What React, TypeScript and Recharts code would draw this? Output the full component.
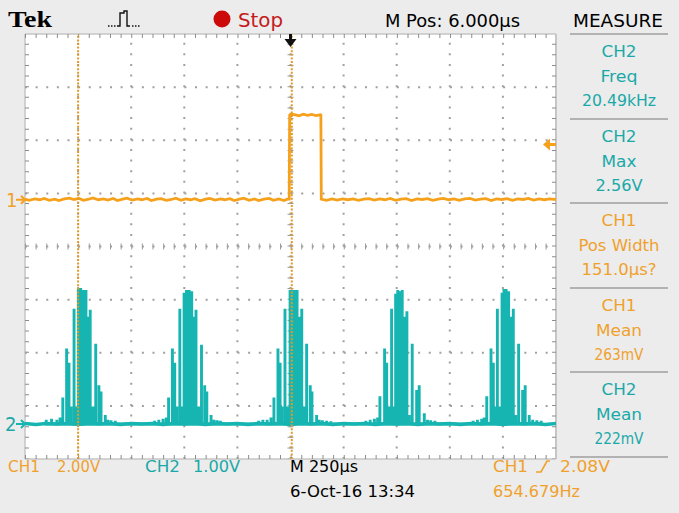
import React from 'react';
import {
  LineChart,
  Line,
  XAxis,
  YAxis,
  CartesianGrid,
  ReferenceLine,
  ReferenceDot,
} from 'recharts';

// Time in µs from screen centre (250 µs/div, 10 divs)
const T_MIN = -1250;
const T_MAX = 1250;
// CH2 axis is 1 V/div with its ground 0.66 div above the bottom edge
const CH2_MIN = -0.66;
const CH2_MAX = 7.34;
const CH2_DIVS = [0.34, 1.34, 2.34, 3.34, 4.34, 5.34, 6.34];
const CH1_MIN = -9.76;
const CH1_MAX = 6.24;

const CURSOR_TIMES = [-1000, 6];
const TRIGGER_TIME = 0;
const CH1_TRIG_LEVEL = 2.08;

// CH1, volts (2 V/div)
const ch1Trace: [number, number][] = [
  [-1250, 0.02], [-1230, -0.02], [-1205, 0.03], [-1180, 0.0], [-1160, 0.05], [-1135, -0.02],
  [-1110, 0.02], [-1090, -0.03], [-1065, 0.03], [-1040, 0.06], [-1020, 0.01], [-995, 0.05],
  [-975, -0.02], [-950, 0.02], [-930, 0.07], [-905, 0.0], [-880, 0.03], [-860, -0.01],
  [-835, 0.05], [-815, -0.03], [-790, 0.02], [-770, 0.06], [-745, -0.01], [-720, 0.03],
  [-700, 0.0], [-675, 0.05], [-655, -0.03], [-630, 0.02], [-610, 0.04], [-585, -0.02],
  [-560, 0.01], [-540, 0.06], [-515, -0.02], [-495, 0.03], [-470, 0.0], [-450, 0.04],
  [-425, -0.04], [-400, 0.02], [-380, 0.05], [-355, -0.01], [-330, 0.03], [-310, 0.0],
  [-285, 0.04], [-265, -0.03], [-240, 0.02], [-220, 0.06], [-195, -0.02], [-170, 0.03],
  [-150, -0.03], [-125, 0.02], [-100, 0.05], [-80, -0.02], [-55, 0.03], [-30, -0.03],
  [-15, 0.02], [-6, 0.02], [-4, 3.18], [0, 3.22], [20, 3.2], [40, 3.16],
  [60, 3.22], [80, 3.18], [100, 3.21], [120, 3.17], [140, 3.2], [143, 3.19], [145, 0.02],
  [170, -0.02], [195, 0.03], [220, -0.01], [245, 0.03], [270, 0.0], [295, 0.03], [320, -0.02],
  [345, 0.02], [370, 0.04], [395, -0.01], [420, 0.03], [445, 0.0], [470, 0.05], [495, -0.02],
  [520, 0.02], [545, 0.04], [570, -0.03], [595, 0.03], [620, 0.01], [645, 0.04], [670, -0.02],
  [695, 0.02], [720, 0.05], [745, 0.0], [770, 0.03], [795, -0.02], [820, 0.03], [845, 0.05],
  [870, -0.01], [895, 0.02], [920, 0.04], [945, -0.03], [970, 0.03], [995, 0.01], [1020, 0.04],
  [1045, -0.02], [1070, 0.03], [1095, 0.01], [1120, 0.05], [1145, -0.01], [1170, 0.03],
  [1195, 0.0], [1220, 0.03], [1250, 0.01],
];

// CH2, volts (1 V/div): baseline and the five bursts of spikes
const ch2Baseline: [number, number][] = [
  [-1250, 0.01], [-1200, -0.01], [-1150, 0.01], [-1100, 0.0], [-1050, 0.01], [-1000, -0.01],
  [-950, 0.01], [-900, 0.0], [-850, 0.01], [-800, -0.01], [-750, 0.01], [-700, 0.0],
  [-650, 0.01], [-600, -0.01], [-550, 0.01], [-500, 0.0], [-450, 0.01], [-400, -0.01],
  [-350, 0.01], [-300, 0.0], [-250, 0.01], [-200, -0.01], [-150, 0.01], [-100, 0.0],
  [-50, 0.01], [0, -0.01], [50, 0.01], [100, 0.0], [150, 0.01], [200, -0.01], [250, 0.01],
  [300, 0.0], [350, 0.01], [400, -0.01], [450, 0.01], [500, 0.0], [550, 0.01], [600, -0.01],
  [650, 0.01], [700, 0.0], [750, 0.01], [800, -0.01], [850, 0.01], [900, 0.0], [950, 0.01],
  [1000, -0.01], [1050, 0.01], [1100, 0.0], [1150, 0.01], [1200, -0.01], [1250, 0.01],
];

const ch2Burst1: [number, number][] = [
  [-1150, 0.08], [-1125, 0.1], [-1100, 0.08], [-1085, 0.12],
  [-1072, 0.5], [-1054, 1.42], [-1043, 1.15], [-1033, 0.33], [-1019, 2.17], [-1010, 0.33],
  [-999, 2.56], [-988, 2.56], [-975, 2.52], [-963, 2.52], [-953, 2.02], [-943, 2.15],
  [-930, 0.33], [-917, 1.51], [-902, 0.73], [-892, 0.61], [-872, 0.17],
  [-860, 0.08], [-845, 0.07], [-825, 0.06],
];
const ch2Burst2: [number, number][] = [
  [-640, 0.06], [-620, 0.08], [-600, 0.1], [-585, 0.12],
  [-574, 0.5], [-556, 1.42], [-545, 1.15], [-535, 0.33], [-521, 2.17], [-512, 0.33],
  [-501, 2.47], [-490, 2.52], [-477, 2.52], [-465, 2.5], [-455, 2.02], [-445, 2.15],
  [-432, 0.33], [-419, 1.49], [-404, 0.73], [-394, 0.61], [-374, 0.17],
  [-360, 0.08], [-345, 0.07], [-330, 0.06],
];
const ch2Burst3: [number, number][] = [
  [-150, 0.06], [-130, 0.08], [-110, 0.08], [-92, 0.12],
  [-78, 0.5], [-59, 1.42], [-49, 1.15], [-40, 0.33], [-26, 2.17], [-15, 0.33],
  [-2, 2.52], [8, 2.52], [21, 2.52], [31, 2.52], [41, 2.02], [53, 2.17],
  [65, 0.33], [76, 1.51], [93, 0.73], [101, 0.61], [123, 0.17],
  [135, 0.08], [150, 0.07], [170, 0.06], [190, 0.05],
];
const ch2Burst4: [number, number][] = [
  [355, 0.06], [375, 0.08], [395, 0.1], [410, 0.12],
  [421, 0.52], [443, 1.42], [453, 1.15], [464, 0.33], [476, 2.17], [486, 0.33],
  [495, 2.45], [505, 2.52], [516, 2.5], [526, 2.52], [538, 2.02], [548, 2.12],
  [559, 0.17], [573, 1.51], [594, 0.64], [606, 0.73], [630, 0.2],
  [645, 0.08], [660, 0.07], [680, 0.06],
];
const ch2Burst5: [number, number][] = [
  [860, 0.06], [880, 0.08], [900, 0.1], [912, 0.12],
  [924, 0.52], [944, 1.42], [955, 1.15], [963, 0.33], [974, 2.17], [983, 0.33],
  [996, 2.47], [1005, 2.54], [1015, 2.54], [1027, 2.5], [1038, 2.02], [1049, 2.17],
  [1060, 0.17], [1074, 1.51], [1093, 0.64], [1105, 0.73], [1124, 0.17],
  [1140, 0.08], [1160, 0.07], [1180, 0.06],
];

const measureRows = [
  { lines: ['CH2', 'Freq', '20.49kHz'], widths: [35, 37, 74], ch: 2 },
  { lines: ['CH2', 'Max', '2.56V'], widths: [35, 35, 47], ch: 2 },
  { lines: ['CH1', 'Pos Width', '151.0µs?'], widths: [35, 81, 75], ch: 1 },
  { lines: ['CH1', 'Mean', '263mV'], widths: [35, 46, 49], ch: 1 },
  { lines: ['CH2', 'Mean', '222mV'], widths: [35, 46, 49], ch: 2 },
];

const ORANGE = '#f6a11c';
const ORANGE_TEXT = '#efa12c';
const TEAL = '#17b5b1';
const TEAL_TEXT = '#1aa9a8';
const BG = '#ececec';
const TICK = '#8c8c8c';
const DOT = '#a0a0a0';
const SANS = "'DejaVu Sans Condensed', 'DejaVu Sans', sans-serif";
const MINOR_DASH = '1 9.625';
const DOT_DASH = '2 8.625';

// graticule box (10 x 8 divisions) inside the 679 x 513 screen
const W = 679;
const H = 513;
const PLOT = { left: 25, top: 34, width: 531, height: 425 };
const X_DIVS = 10;
const PLOT_RIGHT = PLOT.left + PLOT.width;
const PLOT_BOTTOM = PLOT.top + PLOT.height;

const toPoints = (arr: [number, number][]) => arr.map(([t, v]) => ({ t, v }));

const ch1Data = toPoints(ch1Trace);
const ch2BaseData = toPoints(ch2Baseline);
const ch2SpikeData = [ch2Burst1, ch2Burst2, ch2Burst3, ch2Burst4, ch2Burst5]
  .flat()
  .sort((a, b) => a[0] - b[0])
  .flatMap(([t, v]) => [{ t, v: 0 }, { t, v }, { t, v: 0 }]);

function Txt({ x, y, w, size = 16, color = '#000', anchor = 'start', family = SANS, weight, children }: any) {
  return (
    <text
      x={x}
      y={y}
      fontSize={size}
      fill={color}
      fontFamily={family}
      fontWeight={weight}
      textAnchor={anchor}
      textLength={w}
      lengthAdjust="spacingAndGlyphs"
    >
      {children}
    </text>
  );
}

// graticule edge: solid border plus minor ticks pointing inward (dx, dy = inward shift)
const edgeShape = (dx: number, dy: number) => (p: any) => (
  <g>
    <line x1={p.x1} y1={p.y1} x2={p.x2} y2={p.y2} stroke="#c6c6c6" strokeWidth={1.5} />
    <line x1={p.x1 + dx} y1={p.y1 + dy} x2={p.x2 + dx} y2={p.y2 + dy} stroke={TICK} strokeWidth={4} strokeDasharray={MINOR_DASH} />
  </g>
);

const ch1Marker = (p: any) => (
  <g>
    <text x={p.cx - 19} y={p.cy + 7} fontSize={20} fill={ORANGE_TEXT} fontFamily={SANS}>1</text>
    <path d={`M${p.cx - 9},${p.cy} H${p.cx} M${p.cx - 4},${p.cy - 4} L${p.cx},${p.cy} L${p.cx - 4},${p.cy + 4}`} stroke={ORANGE} strokeWidth={2} fill="none" />
  </g>
);

const ch2Marker = (p: any) => (
  <g>
    <text x={p.cx - 20} y={p.cy + 7} fontSize={20} fill={TEAL_TEXT} fontFamily={SANS}>2</text>
    <path d={`M${p.cx - 9},${p.cy} H${p.cx} M${p.cx - 4},${p.cy - 4} L${p.cx},${p.cy} L${p.cx - 4},${p.cy + 4}`} stroke={TEAL} strokeWidth={2} fill="none" />
  </g>
);

const trigLevelMarker = (p: any) => (
  <g>
    <path d={`M${p.cx - 13},${p.cy} L${p.cx - 6},${p.cy - 6} L${p.cx - 6},${p.cy + 6} Z`} fill={ORANGE} />
    <rect x={p.cx - 7} y={p.cy - 1.5} width={7} height={3} fill={ORANGE} />
  </g>
);

const trigTimeMarker = (p: any) => (
  <g>
    <rect x={p.cx - 1.5} y={p.cy} width={3} height={6} fill="#111" />
    <path d={`M${p.cx - 6},${p.cy + 5} L${p.cx + 6},${p.cy + 5} L${p.cx},${p.cy + 13} Z`} fill="#111" />
  </g>
);

// white screen, vertical dotted division lines and side edges, drawn beneath the chart
function Graticule() {
  const divW = PLOT.width / X_DIVS;
  const cols = Array.from({ length: X_DIVS - 1 }, (_, i) => PLOT.left + (i + 1) * divW);
  const centreX = PLOT.left + PLOT.width / 2;
  return (
    <svg width={W} height={H} style={{ position: 'absolute', left: 0, top: 0 }}>
      <rect x={PLOT.left} y={PLOT.top} width={PLOT.width} height={PLOT.height} fill="#ffffff" />
      {cols.map((x) => (
        <line key={`col-${x}`} x1={x} y1={PLOT_BOTTOM} x2={x} y2={PLOT.top} stroke={DOT} strokeWidth={2} strokeDasharray={DOT_DASH} />
      ))}
      <line x1={centreX} y1={PLOT_BOTTOM} x2={centreX} y2={PLOT.top} stroke="#9c9c9c" strokeWidth={6} strokeDasharray={MINOR_DASH} />
      <line x1={PLOT.left} y1={PLOT_BOTTOM} x2={PLOT.left} y2={PLOT.top} stroke="#c6c6c6" strokeWidth={1.5} />
      <line x1={PLOT.left + 2} y1={PLOT_BOTTOM} x2={PLOT.left + 2} y2={PLOT.top} stroke={TICK} strokeWidth={4} strokeDasharray={MINOR_DASH} />
      <line x1={PLOT_RIGHT} y1={PLOT_BOTTOM} x2={PLOT_RIGHT} y2={PLOT.top} stroke="#c6c6c6" strokeWidth={2} />
      <line x1={PLOT_RIGHT - 2} y1={PLOT_BOTTOM} x2={PLOT_RIGHT - 2} y2={PLOT.top} stroke={TICK} strokeWidth={4} strokeDasharray={MINOR_DASH} />
    </svg>
  );
}

export default function App() {
  const sectionTops = [34, 119, 203, 288, 372];
  return (
    <div style={{ position: 'absolute', left: 0, top: 0, width: W, height: H, background: BG, overflow: 'hidden' }}>
      <Graticule />
      <LineChart
        width={W}
        height={H}
        margin={{ top: PLOT.top, right: W - PLOT_RIGHT, bottom: H - PLOT_BOTTOM, left: PLOT.left }}
        style={{ position: 'absolute', left: 0, top: 0 }}
      >
        <CartesianGrid xAxisId="t" yAxisId="ch2" stroke={DOT} strokeWidth={2}
          strokeDasharray={DOT_DASH} vertical={false} horizontalValues={CH2_DIVS} />
        <XAxis xAxisId="t" type="number" dataKey="t" domain={[T_MIN, T_MAX]} hide allowDataOverflow />
        <YAxis yAxisId="ch1" hide type="number" domain={[CH1_MIN, CH1_MAX]} allowDataOverflow />
        <YAxis yAxisId="ch2" hide type="number" domain={[CH2_MIN, CH2_MAX]} allowDataOverflow />

        {/* centre horizontal tick marks and top / bottom edges */}
        <ReferenceLine xAxisId="t" yAxisId="ch2" y={3.34} stroke="#9c9c9c" strokeWidth={6} strokeDasharray={MINOR_DASH} />
        <ReferenceLine xAxisId="t" yAxisId="ch2" y={CH2_MAX} shape={edgeShape(0, 2)} />
        <ReferenceLine xAxisId="t" yAxisId="ch2" y={CH2_MIN} shape={edgeShape(0, -2)} />

        <Line xAxisId="t" yAxisId="ch2" data={ch2BaseData} dataKey="v" stroke={TEAL} strokeWidth={3.5}
          dot={false} isAnimationActive={false} type="linear" />
        <Line xAxisId="t" yAxisId="ch2" data={ch2SpikeData} dataKey="v" stroke={TEAL} strokeWidth={2.9}
          dot={false} isAnimationActive={false} type="linear" />
        <Line xAxisId="t" yAxisId="ch1" data={ch1Data} dataKey="v" stroke={ORANGE} strokeWidth={2.8}
          dot={false} isAnimationActive={false} type="linear" />

        {CURSOR_TIMES.map((c) => (
          <ReferenceLine key={`c-${c}`} xAxisId="t" yAxisId="ch2" x={c} stroke="#e29a26" strokeWidth={2} strokeDasharray="2 1.6" />
        ))}

        <ReferenceDot xAxisId="t" yAxisId="ch1" x={T_MIN} y={0} ifOverflow="visible" shape={ch1Marker} />
        <ReferenceDot xAxisId="t" yAxisId="ch2" x={T_MIN} y={0} ifOverflow="visible" shape={ch2Marker} />
        <ReferenceDot xAxisId="t" yAxisId="ch1" x={T_MAX} y={CH1_TRIG_LEVEL} ifOverflow="visible" shape={trigLevelMarker} />
        <ReferenceDot xAxisId="t" yAxisId="ch2" x={TRIGGER_TIME} y={CH2_MAX} ifOverflow="visible" shape={trigTimeMarker} />
      </LineChart>

      <svg width={W} height={H} style={{ position: 'absolute', left: 0, top: 0, pointerEvents: 'none' }}>
        {/* top status bar */}
        <Txt x={8} y={27} w={44} size={24} family="'Liberation Serif', 'DejaVu Serif', serif" weight="bold">Tek</Txt>
        <path d="M108,26 h1.5 M111,26 h1.5 M114,26 h1.5 M117,26 H120 V13 H124 V11 H127 V26 H130 M132,26 h1.5 M135,26 h1.5 M138,26 h1.5"
          stroke="#111" strokeWidth={1.4} fill="none" />
        <circle cx={222} cy={19} r={8.5} fill="#cc0a0a" />
        <Txt x={238} y={27} w={45} size={19} color="#c41a1a">Stop</Txt>
        <Txt x={385} y={27} w={135} size={18}>M Pos: 6.000µs</Txt>
        <Txt x={573} y={27} w={90} size={18}>MEASURE</Txt>

        {/* measurement panel */}
        {sectionTops.map((top) => (
          <line key={`sep-${top}`} x1={570} x2={668} y1={top} y2={top} stroke="#b2b2b2" strokeWidth={2} />
        ))}
        <line x1={570} x2={668} y1={457} y2={457} stroke="#b2b2b2" strokeWidth={2} />
        {measureRows.map((row, i) =>
          row.lines.map((ln, j) => (
            <Txt key={`m-${i}-${j}`} x={619} y={sectionTops[i] + 23 + j * 24.5} w={row.widths[j]} anchor="middle"
              color={row.ch === 1 ? ORANGE_TEXT : TEAL_TEXT}>
              {ln}
            </Txt>
          )),
        )}

        {/* bottom status */}
        <Txt x={8} y={472} w={32} color={ORANGE_TEXT}>CH1</Txt>
        <Txt x={57} y={472} w={43} color={ORANGE_TEXT}>2.00V</Txt>
        <Txt x={145} y={472} w={35} color={TEAL_TEXT}>CH2</Txt>
        <Txt x={193} y={472} w={47} color={TEAL_TEXT}>1.00V</Txt>
        <Txt x={290} y={472} w={68}>M 250µs</Txt>
        <Txt x={290} y={497} w={125}>6-Oct-16 13:34</Txt>
        <Txt x={493} y={472} w={35} color={ORANGE_TEXT}>CH1</Txt>
        <path d="M536,472 H541 L547,461 H550" stroke={ORANGE_TEXT} strokeWidth={1.6} fill="none" />
        <Txt x={560} y={472} w={50} color={ORANGE_TEXT}>2.08V</Txt>
        <Txt x={493} y={497} w={87} color={ORANGE_TEXT}>654.679Hz</Txt>
      </svg>
    </div>
  );
}
